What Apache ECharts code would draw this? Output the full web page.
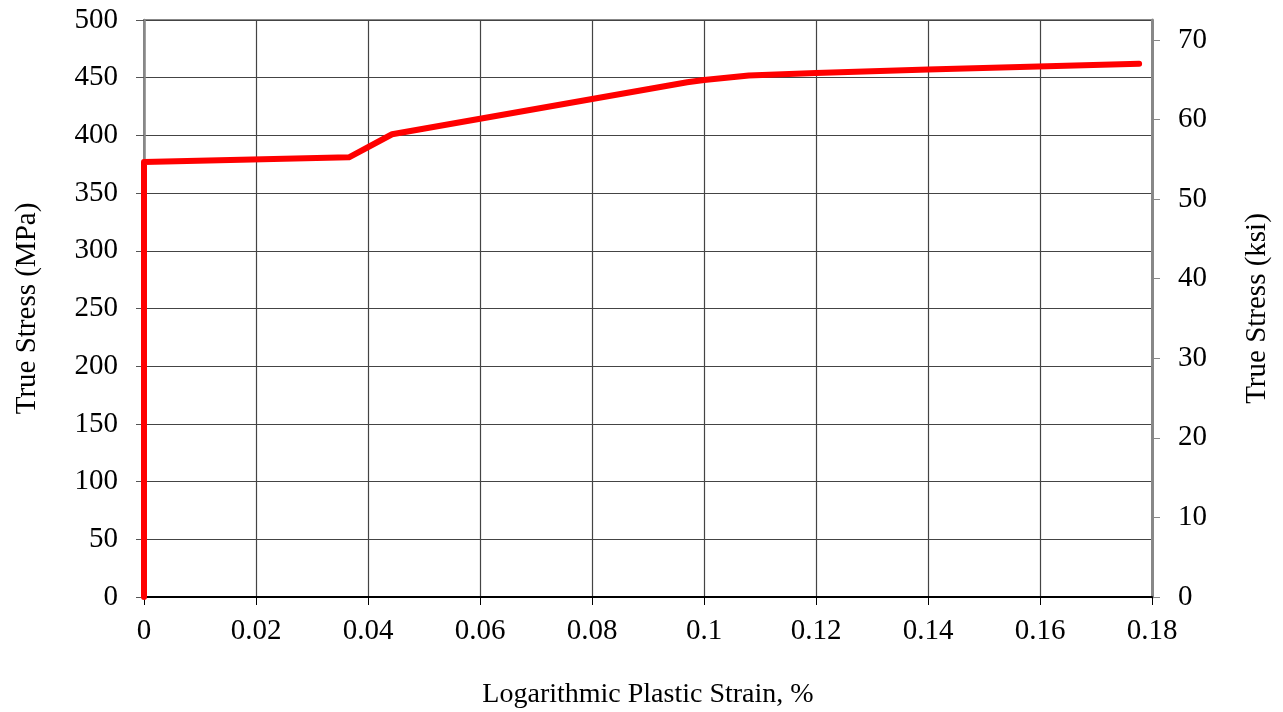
<!DOCTYPE html>
<html><head><meta charset="utf-8">
<script src="https://cdn.jsdelivr.net/npm/echarts@6/dist/echarts.min.js"></script>
<style>html,body{margin:0;padding:0;background:#fff}#c{width:1283px;height:712px}</style>
</head><body><div id="c"></div>
<script>
const strain = [0, 0, 0.0366, 0.0443, 0.0970, 0.1000, 0.1080, 0.1200, 0.1400, 0.1777];
const stressMPa = [0, 377, 381, 401, 446, 448, 452, 454, 457, 462];
const ksiTicks = [0, 10, 20, 30, 40, 50, 60, 70];
const MPA_TO_KSI = 0.1450377;

const font = 'Liberation Serif, Times New Roman, serif';
const fs = 29;
const chart = echarts.init(document.getElementById('c'));
chart.setOption({
  animation: false,
  grid: { left: 144, right: 131, top: 20, bottom: 115, show: true, borderColor: '#888', borderWidth: 2,
    outerBoundsMode: 'none', containLabel: false },
  xAxis: {
    type: 'value', min: 0, max: 0.18, interval: 0.02,
    name: 'Logarithmic Plastic Strain, %', nameLocation: 'middle', nameGap: 84,
    nameTextStyle: { fontFamily: font, fontSize: 28, color: '#000' },
    axisLine: { onZero: false, lineStyle: { color: '#000', width: 2 } },
    axisTick: { show: true, length: 8, lineStyle: { color: '#000' } },
    axisLabel: { fontFamily: font, fontSize: fs, color: '#000', margin: 20,
      formatter: v => String(Math.round(v * 100) / 100) },
    splitLine: { show: true, lineStyle: { color: '#444', width: 1.2 } }
  },
  yAxis: [{
    type: 'value', min: 0, max: 500, interval: 50, position: 'left',
    name: 'True Stress (MPa)', nameLocation: 'middle', nameGap: 102,
    nameTextStyle: { fontFamily: font, fontSize: fs, color: '#000' },
    axisLine: { show: true, lineStyle: { color: '#888', width: 2.5 } },
    axisTick: { show: true, length: 8, lineStyle: { color: '#555' } },
    axisLabel: { fontFamily: font, fontSize: fs, color: '#000', margin: 26 },
    splitLine: { show: true, lineStyle: { color: '#444', width: 1.2 } }
  }, {
    type: 'value', min: 0, max: 500 * MPA_TO_KSI, position: 'right',
    name: 'True Stress (ksi)', nameLocation: 'middle', nameGap: 91,
    nameTextStyle: { fontFamily: font, fontSize: fs, color: '#000' },
    axisLine: { show: true, lineStyle: { color: '#888', width: 3 } },
    axisTick: { show: true, length: 8, customValues: ksiTicks, lineStyle: { color: '#888' } },
    axisLabel: { fontFamily: font, fontSize: fs, color: '#000', margin: 26, customValues: ksiTicks },
    splitLine: { show: false }
  }],
  series: [{
    type: 'line', yAxisIndex: 0, showSymbol: false, symbol: 'none',
    data: strain.map((x, i) => [x, stressMPa[i]]),
    lineStyle: { color: '#ff0000', width: 6, cap: 'round', join: 'round' },
    z: 5
  }]
});
</script></body></html>
